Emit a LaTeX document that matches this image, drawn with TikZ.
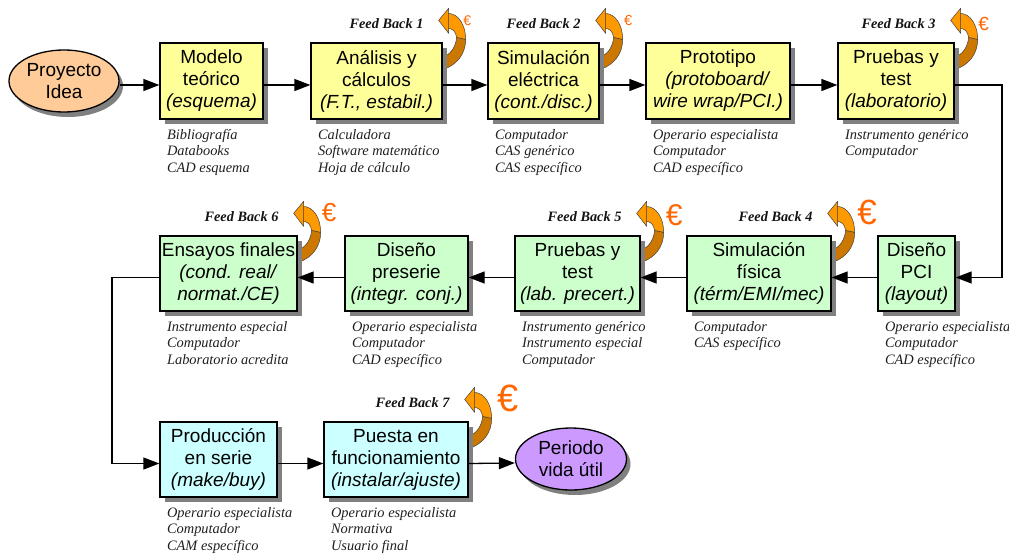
\documentclass[tikz,border=0pt]{standalone}
\usepackage{fontspec}
\setmainfont{Liberation Serif}
\newfontfamily\boxfont{Liberation Sans}
\usetikzlibrary{shapes.geometric,shadows,arrows.meta,calc}

\definecolor{boxyellow}{HTML}{FFFF99}
\definecolor{boxgreen}{HTML}{CCFFCC}
\definecolor{boxcyan}{HTML}{CCFFFF}
\definecolor{startfill}{HTML}{FFCC99}
\definecolor{endfill}{HTML}{CC99FF}
\definecolor{fblight}{HTML}{FF9900}
\definecolor{fbdark}{HTML}{CC7700}
\definecolor{eurocol}{HTML}{FF6600}

\newcommand{\itemlist}[1]{\begin{tabular}[t]{@{}l@{}}#1\end{tabular}}

\pgfdeclarelayer{back}
\pgfsetlayers{back,main}

\tikzset{
  boxshadow/.style={drop shadow={shadow xshift=5pt,shadow yshift=-5pt,fill=black!50,opacity=1}},
  stage/.style={rectangle, draw=black, line width=1.3pt, inner sep=0pt, align=center,
    font=\boxfont\fontsize{19}{22}\selectfont, boxshadow},
  oval/.style={ellipse, draw=black, line width=1.3pt, inner sep=0pt, align=center,
    font=\boxfont\fontsize{19}{22}\selectfont,
    drop shadow={shadow xshift=4pt,shadow yshift=-5pt,fill=black!50,opacity=1}},
  items/.style={anchor=base west, inner sep=0pt, text=black!88,
    font=\fontsize{14.4}{16.3}\selectfont\itshape},
  fblabel/.style={anchor=base east, inner sep=0pt, text=black!92,
    font=\fontsize{14.3}{15}\selectfont\bfseries\itshape},
  euro/.style={inner sep=0pt, text=eurocol},
  flow/.style={line width=1.3pt, -{Triangle[length=16pt,width=12pt]}},
  fbarrow/.pic={
    \begin{scope}[draw=black!75, line width=0.5pt, line join=round]
      % lower (darker) half of the curled ribbon
      \filldraw[fill=fbdark] (23,-3) .. controls (23,11) and (15,22) .. (1,27)
        -- (0,15) .. controls (8,12) and (13,5) .. (14,-5) -- cycle;
      % upper (lighter) half of the ribbon
      \filldraw[fill=fblight] (5,-29) .. controls (16,-29) and (23,-17) .. (23,-3)
        -- (14,-5) .. controls (13,-11) and (10,-14) .. (5,-14) -- cycle;
      % arrow head pointing back
      \filldraw[fill=fblight] (-4,-22) -- (6,-34) -- (6,-9) -- cycle;
    \end{scope}
  }
}

\begin{document}
\begin{tikzpicture}[x=1pt,y=-1pt]
\useasboundingbox (0,0) rectangle (1009,554);

% ---- first row ----
\node[oval, fill=startfill, minimum width=110pt, minimum height=62pt] (idea) at (64,81) {Proyecto\\Idea};
\node[stage, fill=boxyellow, minimum width=103pt, minimum height=76pt] (mod) at (211.5,81) {Modelo\\teórico\\\textit{(esquema)}};
\node[stage, fill=boxyellow, minimum width=131pt, minimum height=76pt] (ana) at (376.5,81) {Análisis y\\cálculos\\\textit{(F.T., estabil.)}};
\node[stage, fill=boxyellow, minimum width=111pt, minimum height=76pt] (sim) at (543.5,81) {Simulación\\eléctrica\\\textit{(cont./disc.)}};
\node[stage, fill=boxyellow, minimum width=144pt, minimum height=76pt] (pro) at (718,81) {Prototipo\\\textit{(protoboard/}\\\textit{wire wrap/PCI.)}};
\node[stage, fill=boxyellow, minimum width=116pt, minimum height=76pt] (pru) at (896,81) {Pruebas y\\test\\\textit{(laboratorio)}};

% ---- second row ----
\node[stage, fill=boxgreen, minimum width=137pt, minimum height=75pt] (ens) at (228.5,273.5) {Ensayos finales\\\textit{(cond. real/}\\\textit{normat./CE)}};
\node[stage, fill=boxgreen, minimum width=123pt, minimum height=75pt] (pre) at (406.5,273.5) {Diseño\\preserie\\\textit{(integr. conj.)}};
\node[stage, fill=boxgreen, minimum width=125pt, minimum height=75pt] (prb) at (577.5,273.5) {Pruebas y\\test\\\textit{(lab. precert.)}};
\node[stage, fill=boxgreen, minimum width=144pt, minimum height=75pt] (sif) at (759,273.5) {Simulación\\física\\\textit{(térm/EMI/mec)}};
\node[stage, fill=boxgreen, minimum width=77pt, minimum height=75pt] (pci) at (916.5,273.5) {Diseño\\PCI\\\textit{(layout)}};

% ---- third row ----
\node[stage, fill=boxcyan, minimum width=117pt, minimum height=75pt] (prod) at (218.5,459.5) {Producción\\en serie\\\textit{(make/buy)}};
\node[stage, fill=boxcyan, minimum width=144pt, minimum height=75pt] (pue) at (396,459.5) {Puesta en\\funcionamiento\\\textit{(instalar/ajuste)}};
\node[oval, fill=endfill, minimum width=111pt, minimum height=62pt] (vida) at (571,459) {Periodo\\vida útil};

% ---- resources under each stage ----
\node[items] (mod-r) at ([shift={(7.5,20)}]mod.south west) {\itemlist{Bibliografía\\Databooks\\CAD esquema}};
\node[items] (ana-r) at ([shift={(7.5,20)}]ana.south west) {\itemlist{Calculadora\\Software matemático\\Hoja de cálculo}};
\node[items] (sim-r) at ([shift={(7.5,20)}]sim.south west) {\itemlist{Computador\\CAS genérico\\CAS específico}};
\node[items] (pro-r) at ([shift={(7.5,20)}]pro.south west) {\itemlist{Operario especialista\\Computador\\CAD específico}};
\node[items] (pru-r) at ([shift={(7.5,20)}]pru.south west) {\itemlist{Instrumento genérico\\Computador}};
\node[items] (ens-r) at ([shift={(7.5,20)}]ens.south west) {\itemlist{Instrumento especial\\Computador\\Laboratorio acredita}};
\node[items] (pre-r) at ([shift={(7.5,20)}]pre.south west) {\itemlist{Operario especialista\\Computador\\CAD específico}};
\node[items] (prb-r) at ([shift={(7.5,20)}]prb.south west) {\itemlist{Instrumento genérico\\Instrumento especial\\Computador}};
\node[items] (sif-r) at ([shift={(7.5,20)}]sif.south west) {\itemlist{Computador\\CAS específico}};
\node[items] (pci-r) at ([shift={(7.5,20)}]pci.south west) {\itemlist{Operario especialista\\Computador\\CAD específico}};
\node[items] (prod-r) at ([shift={(7.5,20)}]prod.south west) {\itemlist{Operario especialista\\Computador\\CAM específico}};
\node[items] (pue-r) at ([shift={(7.5,20)}]pue.south west) {\itemlist{Operario especialista\\Normativa\\Usuario final}};

% ---- feedback loops ----
\begin{pgfonlayer}{back}
  \foreach \n in {ana,sim,pru,sif,prb,ens,pue}
    \pic at (\n.north east) {fbarrow};
\end{pgfonlayer}
\node[fblabel] (fb1) at ([shift={(-19,-14)}]ana.north east) {Feed Back 1};
\node[fblabel] (fb2) at ([shift={(-19,-14)}]sim.north east) {Feed Back 2};
\node[fblabel] (fb3) at ([shift={(-19,-14)}]pru.north east) {Feed Back 3};
\node[fblabel] (fb4) at ([shift={(-19,-14)}]sif.north east) {Feed Back 4};
\node[fblabel] (fb5) at ([shift={(-19,-14)}]prb.north east) {Feed Back 5};
\node[fblabel] (fb6) at ([shift={(-19,-14)}]ens.north east) {Feed Back 6};
\node[fblabel] (fb7) at ([shift={(-19,-14)}]pue.north east) {Feed Back 7};

\node[euro, font=\boxfont\fontsize{14}{14}\selectfont] (eu1) at ([shift={(24.5,-22)}]ana.north east) {€};
\node[euro, font=\boxfont\fontsize{14.5}{14}\selectfont] (eu2) at ([shift={(28.5,-21.5)}]sim.north east) {€};
\node[euro, font=\boxfont\fontsize{19}{19}\selectfont] (eu3) at ([shift={(29,-18)}]pru.north east) {€};
\node[euro, font=\boxfont\fontsize{35}{35}\selectfont] (eu4) at ([shift={(35.5,-23)}]sif.north east) {€};
\node[euro, font=\boxfont\fontsize{30}{30}\selectfont] (eu5) at ([shift={(33.5,-20)}]prb.north east) {€};
\node[euro, font=\boxfont\fontsize{26}{26}\selectfont] (eu6) at ([shift={(31.5,-22.5)}]ens.north east) {€};
\node[euro, font=\boxfont\fontsize{38}{38}\selectfont] (eu7) at ([shift={(39.5,-23)}]pue.north east) {€};

% ---- flow connectors ----
\coordinate (rturn) at (1002,0);
\coordinate (lturn) at (112,0);
\draw[flow] ([yshift=-4pt]idea.east) -- ([yshift=-4pt]mod.west);
\draw[flow] ([yshift=-4pt]mod.east) -- ([yshift=-4pt]ana.west);
\draw[flow] ([yshift=-4pt]ana.east) -- ([yshift=-4pt]sim.west);
\draw[flow] ([yshift=-4pt]sim.east) -- ([yshift=-4pt]pro.west);
\draw[flow] ([yshift=-4pt]pro.east) -- ([yshift=-4pt]pru.west);
\draw[flow] ([yshift=-4pt]pru.east) -- ([yshift=-4pt]pru.east -| rturn)
  -- ([yshift=-4pt]pci.east -| rturn) -- ([yshift=-4pt]pci.east);
\draw[flow] ([yshift=-4pt]pci.west) -- ([yshift=-4pt]sif.east);
\draw[flow] ([yshift=-4pt]sif.west) -- ([yshift=-4pt]prb.east);
\draw[flow] ([yshift=-4pt]prb.west) -- ([yshift=-4pt]pre.east);
\draw[flow] ([yshift=-4pt]pre.west) -- ([yshift=-4pt]ens.east);
\draw[flow] ([yshift=-4pt]ens.west) -- ([yshift=-4pt]ens.west -| lturn)
  -- ([yshift=-4pt]prod.west -| lturn) -- ([yshift=-4pt]prod.west);
\draw[flow] ([yshift=-4pt]prod.east) -- ([yshift=-4pt]pue.west);
\draw[flow] ([yshift=-4pt]pue.east) -- ([yshift=-4pt]vida.west);
\end{tikzpicture}
\end{document}
